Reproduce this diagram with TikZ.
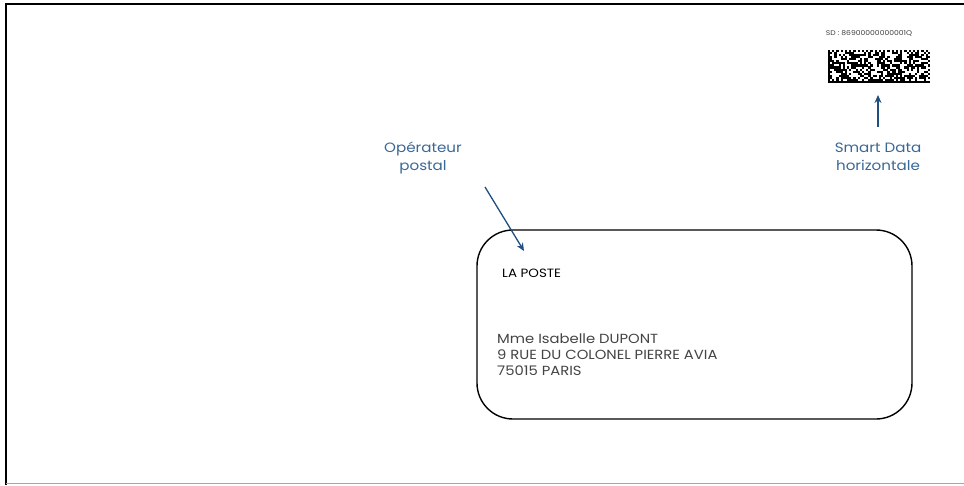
\documentclass[tikz,border=0pt]{standalone}
\usepackage{fontspec}
\setmainfont[FakeStretch=1.12]{Poppins}
\usetikzlibrary{arrows.meta}
\definecolor{lblblue}{HTML}{3A6896}
\definecolor{arrblue}{HTML}{1F4F80}
\definecolor{addrgray}{HTML}{444444}
\tikzset{
  lbl/.style={text=lblblue, font=\fontsize{13.5}{18}\selectfont, align=center, inner sep=0pt},
  ptr/.style={draw=arrblue, line width=1.3pt, -{Stealth[length=8pt,width=7pt]}},
  envelope/.style={draw=black, line width=1.4pt, rounded corners=36pt},
  addr/.style={text=addrgray, font=\fontsize{13.2}{16}\selectfont, align=left, anchor=north west, inner sep=0pt},
  mod/.style={fill=black}
}
\begin{document}
\begin{tikzpicture}[x=1pt,y=-1pt]
\useasboundingbox (0,0) rectangle (964,485);
\fill[white] (0,0) rectangle (964,485);
% frame
\draw[line width=1.5pt,black] (6,485) -- (6,4) -- (964,4);
\draw[line width=1.5pt,gray!70] (6,483.5) -- (964,483.5);
% envelope window
\draw[envelope] (477,230) rectangle (912,419);
\coordinate (env) at (477,230);
% datamatrix
\pgfmathsetseed{7}
\def\mw{2.125}
\def\mh{2.0625}
\coordinate (dm) at (828,50);
\foreach \i in {0,...,47}{
  \foreach \j in {0,...,15}{
    \pgfmathsetmacro{\r}{rnd}
    \pgfmathtruncatemacro{\on}{
      (\i==0) || (\j==15) || ((\j==0) && (mod(\i,2)==0)) || ((\i==47) && (mod(\j,2)==1)) ||
      ((\i>0) && (\i<47) && (\j>0) && (\j<15) && (\r<0.5)) ? 1 : 0}
    \ifnum\on=1
      \fill[black] (828+\i*\mw-0.05,50+\j*\mh-0.05) rectangle ++(\mw+0.1,\mh+0.1);
    \fi
  }
}
\node[font=\fontsize{6.8}{8}\selectfont, text=black!75, inner sep=0pt] (sd) at (869,33) {SD : 86900000000001Q};
\coordinate (dmbottom) at (878,95);
\coordinate (sdstart) at (878,127);
\node[lbl] (smart) at (878,157) {Smart Data\\horizontale};
\draw[ptr] (sdstart) -- (dmbottom);
% operateur postal
\node[lbl] (op) at (423,158) {Opérateur\\postal};
\coordinate (opstart) at (485,187);
\coordinate (opend) at (524,251);
\draw[ptr] (opstart) -- (opend);
% texts in envelope
\node[font=\fontsize{12}{14}\selectfont, text=black, anchor=west, inner sep=0pt] (laposte) at (502,273) {LA POSTE};
\node[addr] (address) at (497,334) {Mme Isabelle DUPONT\\9 RUE DU COLONEL PIERRE AVIA\\75015 PARIS};
\end{tikzpicture}
\end{document}
